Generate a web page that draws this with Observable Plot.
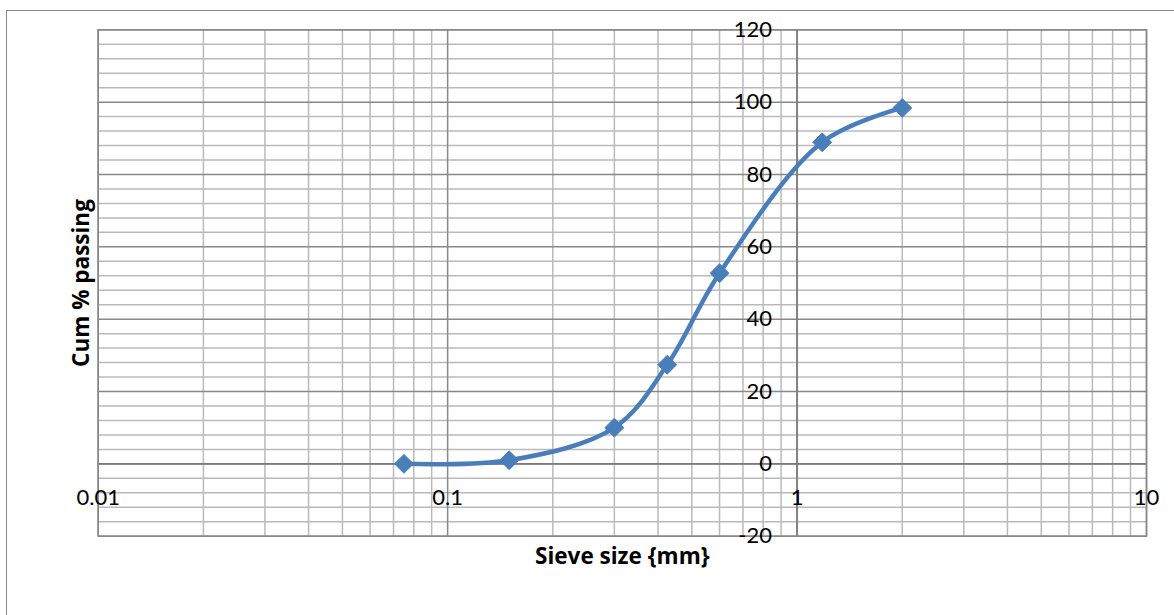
<!DOCTYPE html>
<html><head><meta charset="utf-8">
<script src="https://cdn.jsdelivr.net/npm/d3@7"></script>
<script src="https://cdn.jsdelivr.net/npm/@observablehq/plot@0.6"></script>
<style>
body{margin:0;background:#fff;}
#wrap{position:relative;width:1174px;height:615px;overflow:hidden;background:#fff;}
#wrap svg{position:absolute;left:0;top:0;}
#border{position:absolute;left:6px;top:10px;width:1200px;height:700px;border:1.5px solid #8c8c8c;pointer-events:none;}
</style></head><body><div id="wrap"><div id="border"></div></div>
<script>
// Data
const sieveSize = [0.075, 0.15, 0.3, 0.425, 0.6, 1.18, 2.0];
const cumPassing = [0, 1, 10, 27.4, 52.7, 88.9, 98.4];

// Tick values / labels
const xTickValues = [0.01, 0.1, 1, 10];
const xTickLabels = ["0.01", "0.1", "1", "10"];
const yTickValues = [-20, 0, 20, 40, 60, 80, 100, 120];
const xTitle = "Sieve size {mm}";
const yTitle = "Cum % passing";

const points = sieveSize.map((s, i) => ({x: s, y: cumPassing[i]}));
const xMinor = [];
for (const d of [0.01, 0.1, 1]) for (let k = 2; k <= 9; k++) xMinor.push(+(d * k).toPrecision(3));
const yMinor = d3.range(-20, 121, 4).filter(v => v % 20 !== 0);
const xTicks = xTickValues.map((v, i) => ({v, label: xTickLabels[i]}));

const chart = Plot.plot({
  width: 1174,
  height: 615,
  marginLeft: 97.7,
  marginRight: 28,
  marginTop: 29.3,
  marginBottom: 79.3,
  style: {fontFamily: "Lato, 'Open Sans', sans-serif", background: "transparent"},
  x: {type: "log", domain: [0.01, 10], axis: null},
  y: {domain: [-20, 120], axis: null},
  marks: [
    Plot.ruleX(xMinor, {stroke: "#bababa", strokeWidth: 1.5}),
    Plot.ruleY(yMinor, {stroke: "#bababa", strokeWidth: 1.5}),
    Plot.ruleX(xTickValues, {stroke: "#888888", strokeWidth: 1.5}),
    Plot.ruleY(yTickValues, {stroke: "#888888", strokeWidth: 1.5}),
    Plot.frame({stroke: "#888888", strokeWidth: 1.5}),
    Plot.ruleX([1], {stroke: "#7a7a7a", strokeWidth: 1.6}),
    Plot.ruleY([0], {stroke: "#7a7a7a", strokeWidth: 1.6}),
    Plot.text(yTickValues, {x: 1, y: d => d, text: d => String(d), textAnchor: "end", dx: -25, fontSize: 22, fill: "#000"}),
    Plot.text(xTicks, {x: "v", y: 0, text: "label", textAnchor: "middle", dy: 34, fontSize: 22, fill: "#000"}),
    Plot.line(points, {x: "x", y: "y", curve: "catmull-rom", stroke: "#4a7ebb", strokeWidth: 4.5}),
    Plot.dot(points, {x: "x", y: "y", symbol: "diamond2", r: 8.5, fill: "#4a7ebb", stroke: "#4a7ebb", strokeWidth: 1}),
    Plot.text([yTitle], {frameAnchor: "left", dx: -16, rotate: -90, textAnchor: "middle", lineAnchor: "middle", fontSize: 22.5, fontWeight: "bold", fontFamily: "'Open Sans', sans-serif", fill: "#000"}),
    Plot.text([xTitle], {frameAnchor: "bottom", dy: 21, textAnchor: "middle", lineAnchor: "middle", fontSize: 22.5, fontWeight: "bold", fontFamily: "'Open Sans', sans-serif", fill: "#000"})
  ]
});
document.getElementById("wrap").prepend(chart);
</script>
</body></html>
